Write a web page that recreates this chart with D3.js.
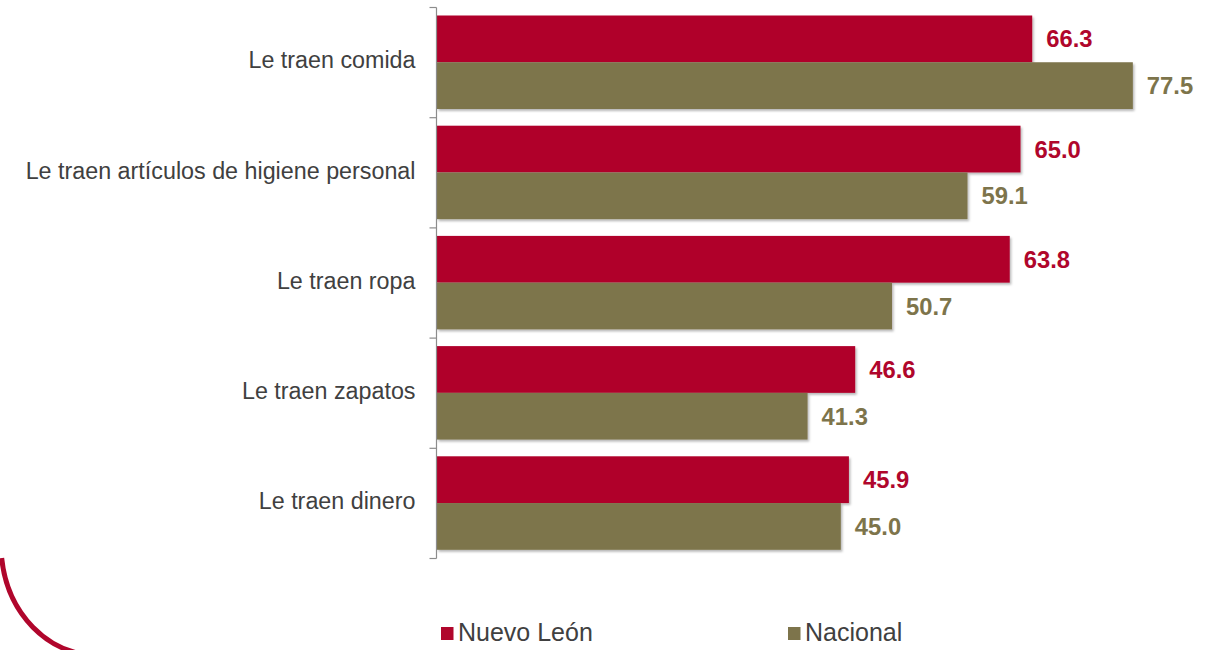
<!DOCTYPE html>
<html>
<head>
<meta charset="utf-8">
<script src="https://cdn.jsdelivr.net/npm/d3@7"></script>
<style>
  html, body { margin: 0; padding: 0; background: #ffffff; }
  svg { display: block; }
</style>
</head>
<body>
<svg id="chart" width="1218" height="650"></svg>
<script>
// Categories, top to bottom
const categories = [
  "Le traen comida",
  "Le traen artículos de higiene personal",
  "Le traen ropa",
  "Le traen zapatos",
  "Le traen dinero"
];
// Series names (legend order)
const seriesNames = ["Nuevo León", "Nacional"];
// Percentages per category
const nuevoLeon = [66.3, 65.0, 63.8, 46.6, 45.9];
const nacional  = [77.5, 59.1, 50.7, 41.3, 45.0];
const seriesColors = ["#B0062C", "#7D744B"];

const svg = d3.select("#chart");

const rows = categories.map((c, i) => ({
  category: c,
  values: [
    { series: seriesNames[0], value: nuevoLeon[i] },
    { series: seriesNames[1], value: nacional[i] }
  ]
}));

// Scales
const axisX = 436.5;
const x = d3.scaleLinear().domain([0, 80]).range([axisX, axisX + 80 * 8.985]);
const y = d3.scaleBand().domain(categories).range([7.5, 558.5]).padding(0);
const ySub = d3.scaleBand().domain(seriesNames).range([8, 101.5]).padding(0);
const color = d3.scaleOrdinal().domain(seriesNames).range(seriesColors);

// Soft drop shadow under bars
const defs = svg.append("defs");
const f = defs.append("filter").attr("id", "shadow")
  .attr("x", "-5%").attr("y", "-20%").attr("width", "110%").attr("height", "150%");
f.append("feDropShadow").attr("dx", 1.5).attr("dy", 2).attr("stdDeviation", 1.2)
  .attr("flood-color", "#000").attr("flood-opacity", 0.28);

// Bars
const groups = svg.append("g").selectAll("g.row")
  .data(rows).join("g").attr("class", "row")
  .attr("transform", d => `translate(0,${y(d.category)})`);

groups.selectAll("rect")
  .data(d => d.values).join("rect")
  .attr("x", x(0) + 0.5)
  .attr("y", d => ySub(d.series))
  .attr("width", d => x(d.value) - x(0) - 0.5)
  .attr("height", ySub.bandwidth())
  .attr("fill", d => color(d.series))
  .attr("filter", "url(#shadow)");

// Value labels
groups.selectAll("text.value")
  .data(d => d.values).join("text").attr("class", "value")
  .attr("x", d => x(d.value) + 14)
  .attr("y", d => ySub(d.series) + ySub.bandwidth() / 2)
  .attr("dy", "0.36em")
  .attr("font-family", "'Liberation Sans', Arial, sans-serif")
  .attr("font-weight", "bold")
  .attr("font-size", 23.8)
  .attr("fill", d => color(d.series))
  .text(d => d.value.toFixed(1));

// Category axis: vertical line with ticks at category boundaries
const axisG = svg.append("g").attr("transform", `translate(${axisX},0)`);
const yAxis = d3.axisLeft(y).tickSize(0).tickPadding(21);
axisG.call(yAxis);
axisG.select(".domain").remove();
axisG.selectAll(".tick text")
  .attr("font-family", "'Liberation Sans', Arial, sans-serif")
  .attr("font-size", 23.3)
  .attr("fill", "#404040")
  .attr("dy", "0.25em");

axisG.append("line")
  .attr("x1", 0).attr("x2", 0)
  .attr("y1", y.range()[0]).attr("y2", y.range()[1])
  .attr("stroke", "#8c8c8c").attr("stroke-width", 1.2);

const boundaries = categories.map(c => y(c)).concat([y.range()[1]]);
axisG.selectAll("line.bound").data(boundaries).join("line").attr("class", "bound")
  .attr("x1", -7).attr("x2", 0)
  .attr("y1", d => d).attr("y2", d => d)
  .attr("stroke", "#8c8c8c").attr("stroke-width", 1.2);

// Legend
const legendX = [441, 788];
const legend = svg.append("g").selectAll("g")
  .data(seriesNames).join("g")
  .attr("transform", (d, i) => `translate(${legendX[i]},627)`);
legend.append("rect").attr("width", 12.5).attr("height", 13)
  .attr("fill", d => color(d));
legend.append("text")
  .attr("x", 17).attr("y", 14)
  .attr("font-family", "'Liberation Sans', Arial, sans-serif")
  .attr("font-size", 25)
  .attr("fill", "#404040")
  .text(d => d);

// Corner ornament: red elliptical arc at lower left
svg.append("path")
  .attr("d", "M 1.66 558 A 95 110 0 0 0 96 655")
  .attr("fill", "none")
  .attr("stroke", "#B0062C")
  .attr("stroke-width", 5);
</script>
</body>
</html>
